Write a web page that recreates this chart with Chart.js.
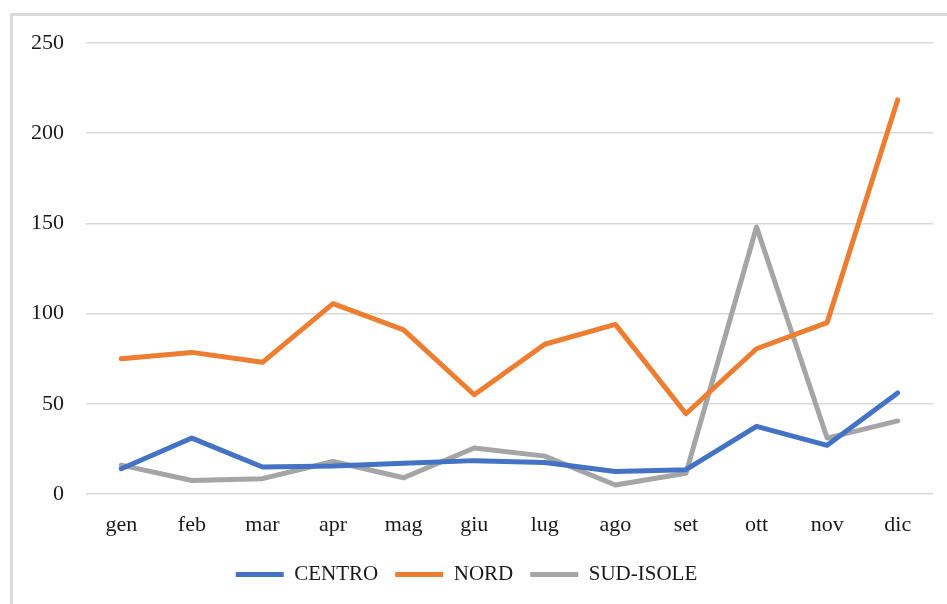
<!DOCTYPE html>
<html>
<head>
<meta charset="utf-8">
<script src="https://cdn.jsdelivr.net/npm/chart.js@4"></script>
<style>
  html, body { margin: 0; padding: 0; background: #fff; overflow: hidden; }
  .frame { position: absolute; left: 10px; top: 13px; width: 960px; height: 620px;
           border-left: 3px solid #d9d9d9; border-top: 3px solid #d9d9d9; }
  .wrap { position: absolute; left: 0; top: 0; width: 947px; height: 604px; }
</style>
</head>
<body>
<div class="frame"></div>
<div class="wrap"><canvas id="chart" width="947" height="604"></canvas></div>
<script>
const MONTHS = ['gen', 'feb', 'mar', 'apr', 'mag', 'giu', 'lug', 'ago', 'set', 'ott', 'nov', 'dic'];
const CENTRO = [14, 31, 15, 15.5, 17, 18.5, 17.5, 12.5, 13.5, 37.5, 27, 56];
const NORD = [75, 78.5, 73, 105.5, 91, 55, 83, 94, 44.5, 80.5, 95, 218.5];
const SUD_ISOLE = [16, 7.5, 8.5, 18, 9, 25.5, 21, 5, 11.5, 148, 31, 40.5];
const Y_TICKS = [0, 50, 100, 150, 200, 250];

const TICK_FONT = { family: '"Liberation Serif", "Times New Roman", serif', size: 22 };
const LEGEND_FONT = { family: '"Liberation Serif", "Times New Roman", serif', size: 21 };
const TEXT = '#1a1a1a';

function series(label, data, color) {
  return {
    label, data,
    borderColor: color, backgroundColor: color,
    borderWidth: 5, borderCapStyle: 'round', borderJoinStyle: 'round',
    pointRadius: 0, pointHoverRadius: 0, tension: 0,
  };
}

new Chart(document.getElementById('chart'), {
  type: 'line',
  data: {
    labels: MONTHS,
    datasets: [
      series('CENTRO', CENTRO, '#4472C4'),
      series('NORD', NORD, '#ED7D31'),
      series('SUD-ISOLE', SUD_ISOLE, '#A5A5A5'),
    ],
  },
  options: {
    responsive: false, animation: false,
    layout: { padding: { top: 43, right: 14, bottom: 9, left: 0 } },
    plugins: {
      tooltip: { enabled: false },
      legend: {
        position: 'bottom',
        labels: {
          font: LEGEND_FONT, color: TEXT, padding: 17,
          usePointStyle: true, pointStyle: 'line', pointStyleWidth: 48,
        },
      },
    },
    scales: {
      x: {
        offset: true,
        grid: { display: false, drawTicks: false, offset: true },
        border: { display: false },
        ticks: { font: TICK_FONT, color: TEXT, padding: 18, maxRotation: 0 },
        afterFit: a => { a.height = 53; },
      },
      y: {
        min: 0, max: 250,
        afterBuildTicks: a => { a.ticks = Y_TICKS.map(v => ({ value: v })); },
        grid: { color: '#d9d9d9', lineWidth: 1.5, drawTicks: false },
        border: { display: false },
        ticks: { font: TICK_FONT, color: TEXT, padding: 22 },
        afterFit: a => { a.width = 86; },
      },
    },
  },
});
</script>
</body>
</html>
